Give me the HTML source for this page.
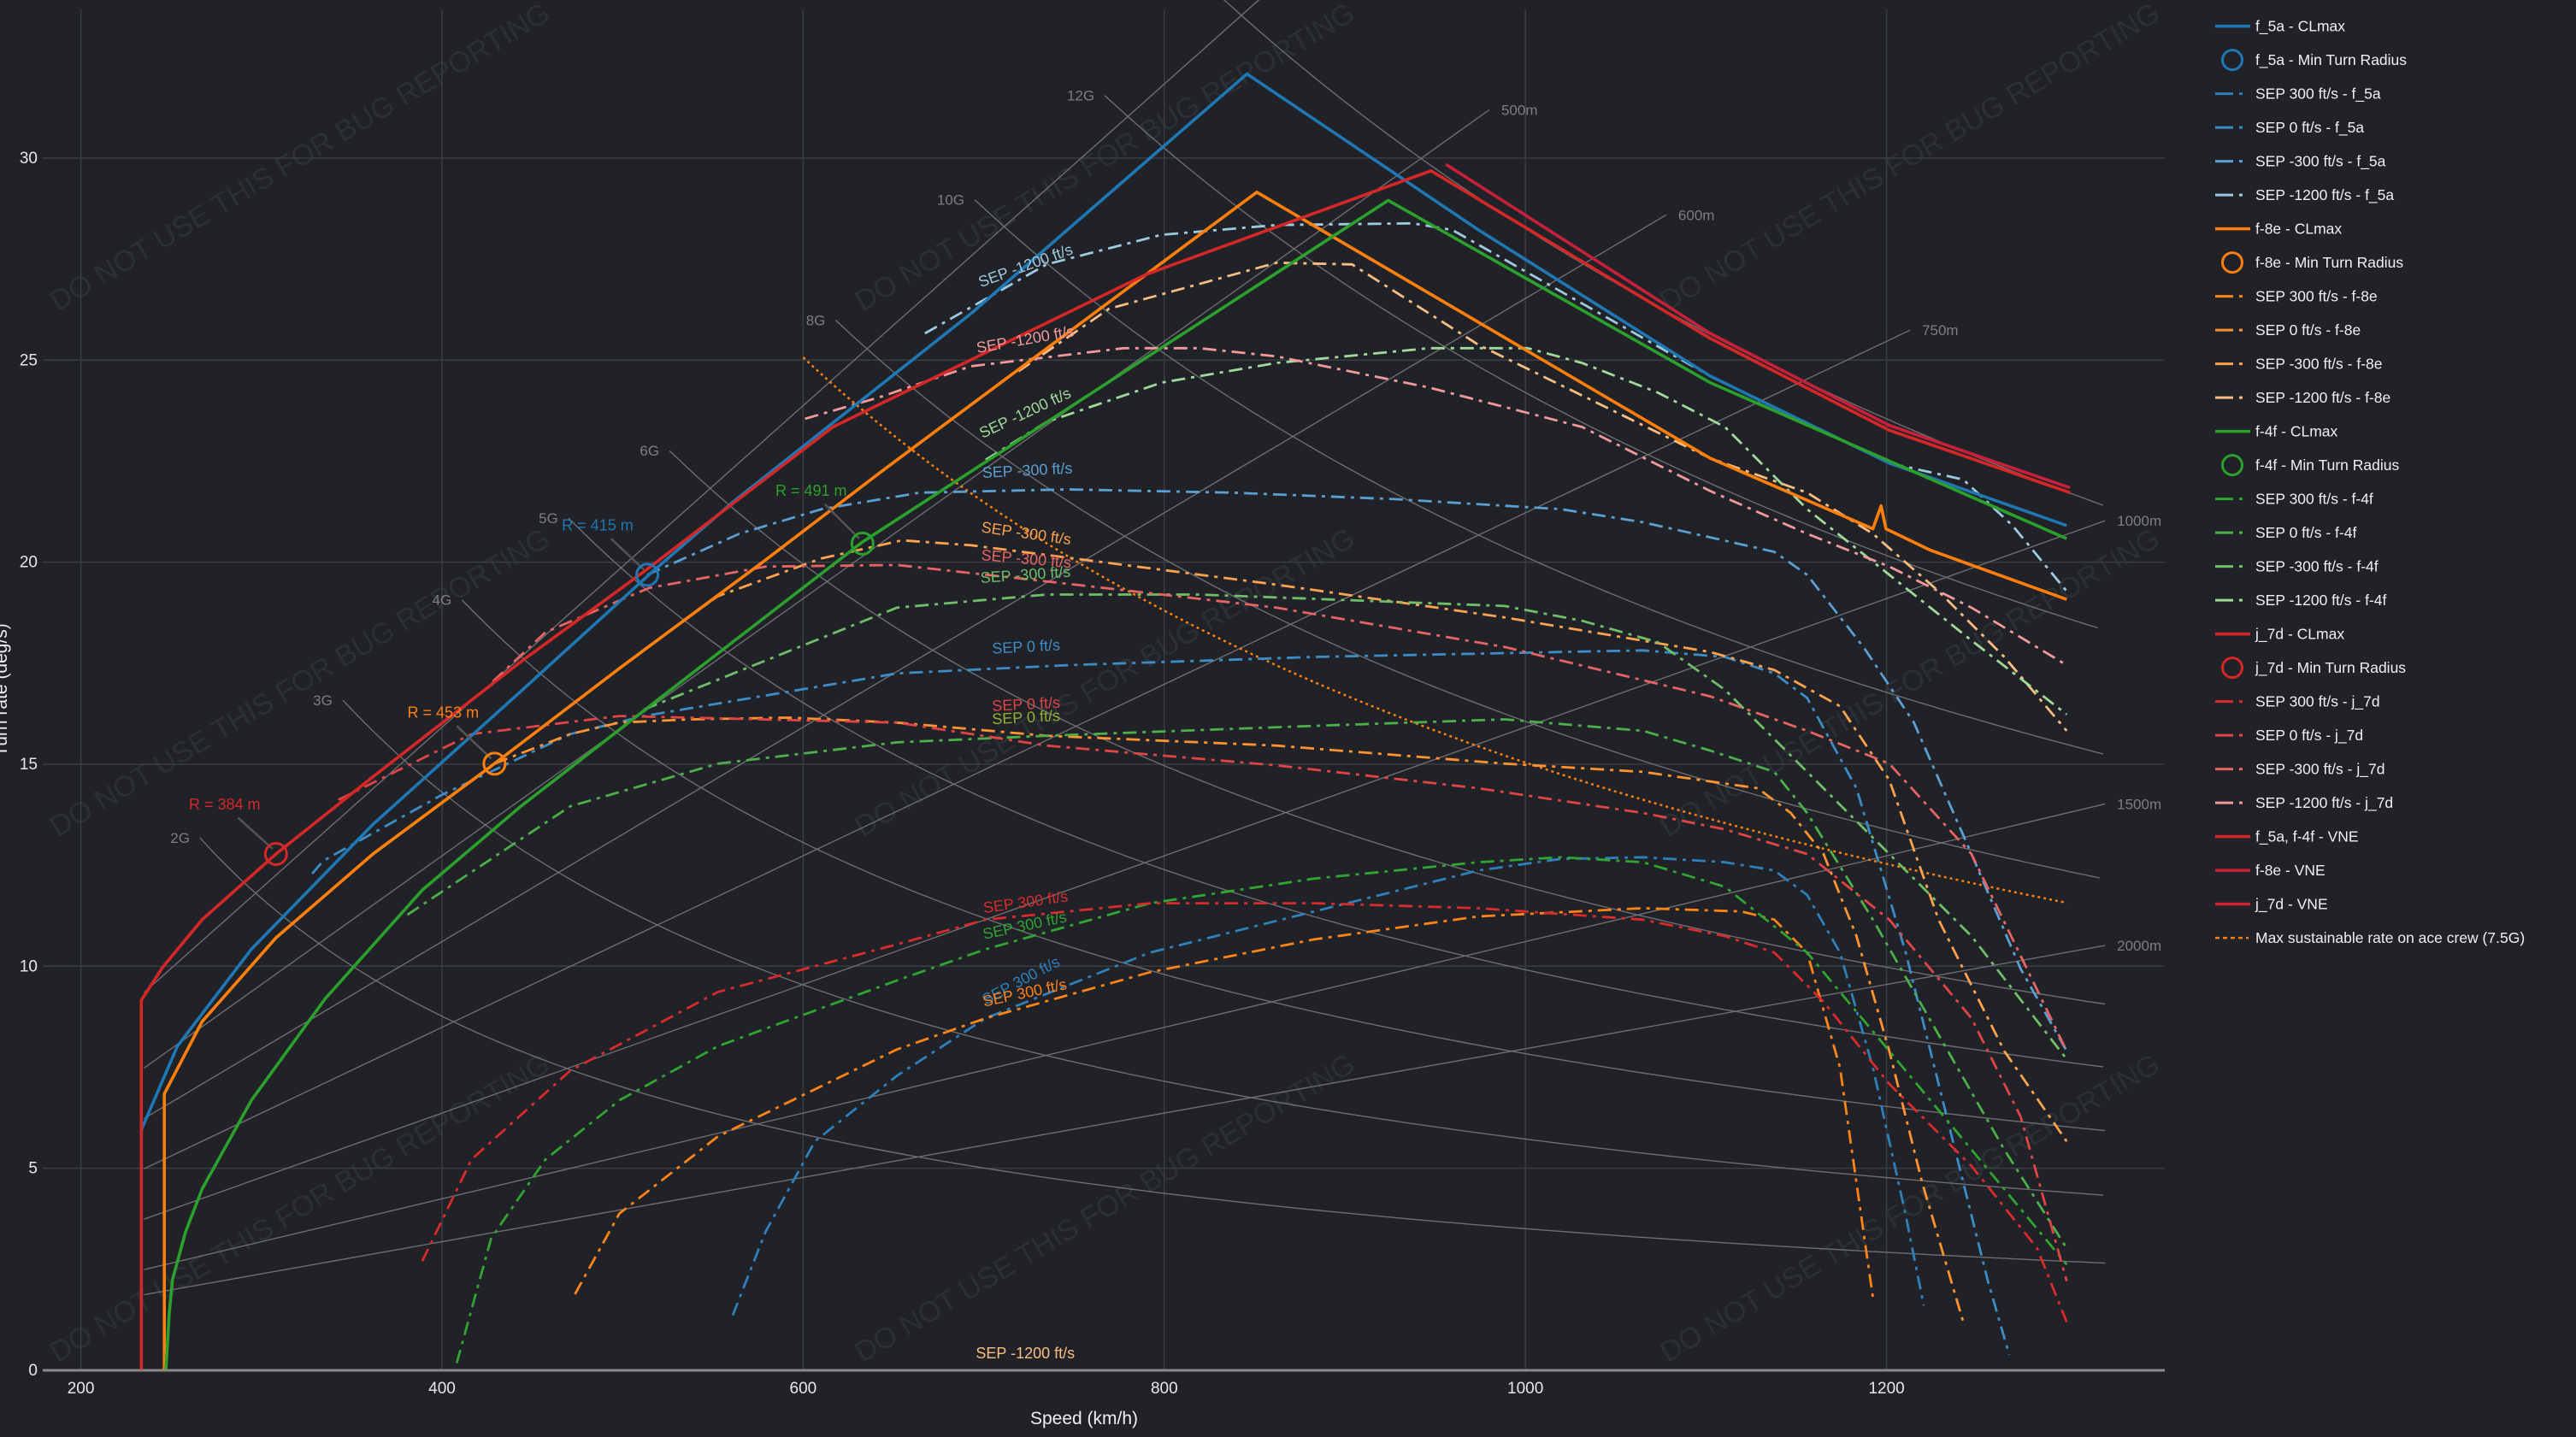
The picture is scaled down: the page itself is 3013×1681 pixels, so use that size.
<!DOCTYPE html>
<html><head><meta charset="utf-8"><style>
html,body{margin:0;padding:0;background:#202227;}
svg{display:block;}
text{font-family:"Liberation Sans","DejaVu Sans",sans-serif;}
</style></head><body>
<svg id="s" width="3013" height="1681" viewBox="0 0 3013 1681" xmlns="http://www.w3.org/2000/svg">
<rect width="3013" height="1681" fill="#202227"/>
<defs><clipPath id="c"><rect x="50" y="0" width="2482" height="1603"/></clipPath></defs>
<g id="wm" fill="#2c2f35" font-size="34"></g>
<g id="grid"></g>
<g id="ref" clip-path="url(#c)"></g>
<g id="ser" clip-path="url(#c)"></g>
<g id="ann"></g>
<g id="leg"></g>
</svg>
<script>
const NS="http://www.w3.org/2000/svg";
const sx=3013/1568, sy=1681/875;
function X(k){return 94.6+(k-200)*2.112;}
function Y(v){return 1603-47.27*v;}
function el(p,tag,a,txt){const e=document.createElementNS(NS,tag);for(const k in a)e.setAttribute(k,a[k]);if(txt!==undefined)e.textContent=txt;document.getElementById(p).appendChild(e);return e;}
function dpath(pts){return pts.map((p,i)=>(i?'L':'M')+(p[0]*sx).toFixed(1)+','+(p[1]*sy).toFixed(1)).join('');}
// watermarks
[[35,190],[525,190],[1015,190],[35,510],[525,510],[1015,510],[35,830],[525,830],[1015,830]].forEach(p=>{
 const x=p[0]*sx,y=p[1]*sy;
 el('wm','text',{x:x,y:y,transform:`rotate(-30.7 ${x} ${y})`},'DO NOT USE THIS FOR BUG REPORTING');
});
// grid
for(let k=200;k<=1200;k+=200){el('grid','line',{x1:X(k),x2:X(k),y1:11,y2:1603,stroke:'#3a3d43','stroke-width':1.5});
 el('grid','text',{x:X(k),y:1630,'text-anchor':'middle','font-size':19,fill:'#e8e8e8'},k);}
for(let v=5;v<=30;v+=5){el('grid','line',{x1:50,x2:2532,y1:Y(v),y2:Y(v),stroke:'#3a3d43','stroke-width':1.5});}
for(let v=0;v<=30;v+=5){el('grid','text',{x:44,y:Y(v)+6,'text-anchor':'end','font-size':19,fill:'#e8e8e8'},v);}
el('grid','line',{x1:50,x2:2532,y1:1603,y2:1603,stroke:'#8a8a8a','stroke-width':3});
el('grid','text',{x:1268,y:1666,'text-anchor':'middle','font-size':21,fill:'#f0f0f0'},'Speed (km/h)');
el('grid','text',{x:8,y:807,'text-anchor':'middle','font-size':21,fill:'#f0f0f0',transform:'rotate(-90 8 807)'},'Turn rate (deg/s)');
// radius lines
const RL=[[400,1100,''],[500,980,'500m'],[600,1078,'600m'],[750,1213,'750m'],[1000,1321,'1000m'],[1500,1321,'1500m'],[2000,1321,'2000m']];
RL.forEach(r=>{const f=k=>k/3.6/r[0]*57.2958;
 el('ref','line',{x1:X(235),y1:Y(f(235)),x2:X(r[1]),y2:Y(f(r[1])),stroke:'#6c6e72','stroke-width':1.4});
 if(r[2])el('ann','text',{x:X(r[1])+14,y:Y(f(r[1]))+6,'font-size':17,fill:'#7c7e82'},r[2]);});
// G lines
const GL=[[2,266],[3,345],[4,411],[5,470],[6,526],[8,618],[10,695],[12,767],[14,830]];
GL.forEach(g=>{const f=k=>9.81*Math.sqrt(g[0]*g[0]-1)/(k/3.6)*57.2958;let d='';
 for(let k=g[1];k<=1321;k+=5)d+=(d?'L':'M')+X(k).toFixed(1)+','+Y(f(k)).toFixed(1);
 el('ref','path',{d:d,fill:'none',stroke:'#6c6e72','stroke-width':1.4});
 if(g[0]<14)el('ann','text',{x:X(g[1])-12,y:Y(f(g[1]))+6,'text-anchor':'end','font-size':17,fill:'#7c7e82'},g[0]+'G');});
// 7.5G dotted
(function(){const f=k=>9.81*Math.sqrt(7.5*7.5-1)/(k/3.6)*57.2958;let d='';
 for(let k=600;k<=1300;k+=5)d+=(d?'L':'M')+X(k).toFixed(1)+','+Y(f(k)).toFixed(1);
 el('ser','path',{d:d,fill:'none',stroke:'#ff7f0e','stroke-width':2.5,'stroke-dasharray':'3,4'});})();
const DD='16,7,4,7';
function sep(pts,c){el('ser','path',{d:dpath(pts),fill:'none',stroke:c,'stroke-width':2.8,'stroke-dasharray':DD});}
function cl(pts,c){el('ser','path',{d:dpath(pts),fill:'none',stroke:c,'stroke-width':3.6,'stroke-linejoin':'round'});}
// SEP curves
sep([[446,801],[466,750],[496,695],[546,655],[600,620],[700,580],[800,555],[900,530],[950,523],[1000,522],[1050,525],[1080,530],[1100,545],[1120,580],[1140,650],[1160,740],[1171,795]],'#2f7fba');
sep([[190,532],[197,524],[269,484],[347,447],[392,436],[546,410],[650,405],[800,400],[950,397],[1000,396],[1050,400],[1080,410],[1100,425],[1130,480],[1160,580],[1190,700],[1210,780],[1223,825]],'#3d8cc6');
sep([[394,350],[450,325],[500,310],[560,300],[650,298],[750,300],[850,304],[950,310],[1000,318],[1080,336],[1100,350],[1135,395],[1165,440],[1200,520],[1230,590],[1258,640]],'#5c9fd2');
sep([[563,203],[637,161],[707,143],[777,137],[860,136],[884,140],[1041,229],[1150,282],[1195,292],[1225,320],[1258,360]],'#9ecae1');
sep([[350,788],[377,739],[437,692],[546,639],[600,620],[700,592],[800,572],[900,558],[1000,553],[1060,555],[1080,560],[1100,580],[1120,650],[1140,790]],'#ff8317');
sep([[301,465],[347,447],[377,440],[420,438],[480,437],[546,440],[637,448],[777,454],[916,465],[1000,470],[1070,480],[1090,495],[1110,520],[1130,570],[1150,640],[1170,720],[1195,805]],'#ff9330');
sep([[405,386],[437,363],[500,340],[549,329],[591,332],[661,341],[777,356],[916,376],[1041,397],[1080,408],[1120,430],[1150,475],[1180,560],[1220,640],[1258,695]],'#fda24f');
sep([[620,226],[675,188],[777,160],[823,161],[900,210],[1041,279],[1100,300],[1140,325],[1180,360],[1220,400],[1258,445]],'#f8bd82');
sep([[278,830],[299,754],[332,706],[377,670],[437,637],[546,597],[600,578],[700,550],[800,535],[900,525],[950,522],[1000,525],[1050,540],[1100,580],[1150,640],[1200,700],[1258,770]],'#30a531');
sep([[248,557],[347,491],[437,465],[546,452],[637,448],[800,442],[916,438],[1000,445],[1041,457],[1080,470],[1100,495],[1140,560],[1180,630],[1220,700],[1258,760]],'#4caf4a');
sep([[392,432],[546,370],[637,362],[730,362],[916,369],[963,378],[1009,391],[1050,420],[1100,470],[1150,520],[1200,570],[1258,645]],'#6fbf69');
sep([[600,280],[637,257],[707,233],[777,221],[870,212],[930,212],[963,221],[1009,239],[1050,260],[1100,310],[1150,350],[1200,390],[1258,435]],'#a1d99b');
sep([[257,768],[287,706],[347,652],[437,604],[546,575],[600,560],[700,550],[800,550],[900,553],[1000,560],[1050,570],[1080,580],[1110,610],[1150,660],[1200,710],[1240,760],[1258,805]],'#d92b2c');
sep([[206,487],[287,447],[377,436],[546,440],[637,454],[777,466],[900,480],[1000,495],[1050,505],[1100,520],[1150,560],[1200,620],[1230,680],[1258,780]],'#e04444');
sep([[300,415],[332,385],[395,358],[466,345],[546,344],[637,354],[777,370],[916,394],[1041,424],[1100,445],[1150,465],[1200,520],[1258,640]],'#e86464');
sep([[490,255],[535,242],[591,223],[684,212],[730,212],[777,217],[870,236],[963,260],[1041,299],[1100,325],[1150,345],[1200,370],[1258,405]],'#f29a9a');
// CLmax
cl([[86,834],[86,688],[108,637],[153,578],[227,502],[317,421],[395,350],[447,305],[591,191],[759,45],[900,140],[1041,229],[1150,282],[1258,320]],'#1f77b4');
cl([[100,834],[100,666],[123,622],[168,571],[227,520],[301,465],[377,407],[466,341],[538,286],[765,117],[1041,279],[1140,322],[1145,308],[1148,322],[1175,335],[1258,365]],'#ff7f0e');
cl([[101,834],[103,800],[105,779],[113,750],[123,724],[153,670],[198,608],[257,542],[317,491],[407,421],[525,330],[845,122],[1041,233],[1258,328]],'#2ca02c');
cl([[880,100],[1041,203],[1150,259],[1260,297]],'#c8203a');
cl([[86,834],[86,609],[99,589],[123,560],[168,520],[227,473],[317,403],[392,348],[507,260],[698,167],[871,104],[1041,206],[1150,262],[1260,300]],'#d62728');
// min turn radius markers
[[168,520,'#d62728','R = 384 m',115,493],[301,465,'#ff7f0e','R = 453 m',248,437],[394,350,'#1f77b4','R = 415 m',342,323],[525,331,'#2ca02c','R = 491 m',472,302]].forEach(m=>{
 const cx=m[0]*sx,cy=m[1]*sy;
 el('ann','line',{x1:(m[4]+30)*sx,y1:(m[5]+5)*sy,x2:cx-4,y2:cy-6,stroke:'#555','stroke-width':2.5});
 el('ann','circle',{cx:cx,cy:cy,r:12.5,fill:'none',stroke:m[2],'stroke-width':3});
 el('ann','text',{x:m[4]*sx,y:m[5]*sy,'font-size':18,fill:m[2]},m[3]);});
// SEP labels
[[597,175,-20,'#9ecae1','SEP -1200 ft/s'],[595,215,-10,'#f29a9a','SEP -1200 ft/s'],[598,267,-25,'#a1d99b','SEP -1200 ft/s'],[598,291,-3,'#5c9fd2','SEP -300 ft/s'],[597,324,8,'#fda24f','SEP -300 ft/s'],[597,341,5,'#e86464','SEP -300 ft/s'],[597,355,-4,'#6fbf69','SEP -300 ft/s'],[604,398,-3,'#3d8cc6','SEP 0 ft/s'],[604,433,-3,'#e04444','SEP 0 ft/s'],[604,441,-3,'#8fb030','SEP 0 ft/s'],[599,556,-8,'#d92b2c','SEP 300 ft/s'],[599,572,-12,'#30a531','SEP 300 ft/s'],[600,612,-28,'#2f7fba','SEP 300 ft/s'],[599,613,-12,'#ff8317','SEP 300 ft/s'],[594,827,0,'#f8bd82','SEP -1200 ft/s']].forEach(l=>{
 const x=l[0]*sx,y=l[1]*sy;el('ann','text',{x:x,y:y,'font-size':18,fill:l[3],transform:`rotate(${l[2]} ${x} ${y})`},l[4]);});
// legend
const LG=[['f_5a - CLmax','#1f77b4','l'],['f_5a - Min Turn Radius','#1f77b4','c'],['SEP 300 ft/s - f_5a','#2f7fba','d'],['SEP 0 ft/s - f_5a','#3d8cc6','d'],['SEP -300 ft/s - f_5a','#5c9fd2','d'],['SEP -1200 ft/s - f_5a','#9ecae1','d'],
['f-8e - CLmax','#ff7f0e','l'],['f-8e - Min Turn Radius','#ff7f0e','c'],['SEP 300 ft/s - f-8e','#ff8317','d'],['SEP 0 ft/s - f-8e','#ff9330','d'],['SEP -300 ft/s - f-8e','#fda24f','d'],['SEP -1200 ft/s - f-8e','#f8bd82','d'],
['f-4f - CLmax','#2ca02c','l'],['f-4f - Min Turn Radius','#2ca02c','c'],['SEP 300 ft/s - f-4f','#30a531','d'],['SEP 0 ft/s - f-4f','#4caf4a','d'],['SEP -300 ft/s - f-4f','#6fbf69','d'],['SEP -1200 ft/s - f-4f','#a1d99b','d'],
['j_7d - CLmax','#d62728','l'],['j_7d - Min Turn Radius','#d62728','c'],['SEP 300 ft/s - j_7d','#d92b2c','d'],['SEP 0 ft/s - j_7d','#e04444','d'],['SEP -300 ft/s - j_7d','#e86464','d'],['SEP -1200 ft/s - j_7d','#f29a9a','d'],
['f_5a, f-4f - VNE','#d62728','l'],['f-8e - VNE','#c8203a','l'],['j_7d - VNE','#cf2231','l'],['Max sustainable rate on ace crew (7.5G)','#ff7f0e','o']];
LG.forEach((e,i)=>{const y=30.6+39.5*i;
 if(e[2]=='l')el('leg','line',{x1:2591,x2:2632,y1:y,y2:y,stroke:e[1],'stroke-width':3.5});
 else if(e[2]=='c')el('leg','circle',{cx:2611,cy:y,r:11.5,fill:'none',stroke:e[1],'stroke-width':3});
 else if(e[2]=='d'){el('leg','line',{x1:2591,x2:2612,y1:y,y2:y,stroke:e[1],'stroke-width':3});el('leg','line',{x1:2619,x2:2623,y1:y,y2:y,stroke:e[1],'stroke-width':3});}
 else el('leg','line',{x1:2591,x2:2630,y1:y,y2:y,stroke:e[1],'stroke-width':2.5,'stroke-dasharray':'5,4'});
 el('leg','text',{x:2638,y:y+6,'font-size':17.5,fill:'#f0f0f0'},e[0]);});
</script>
</body></html>
